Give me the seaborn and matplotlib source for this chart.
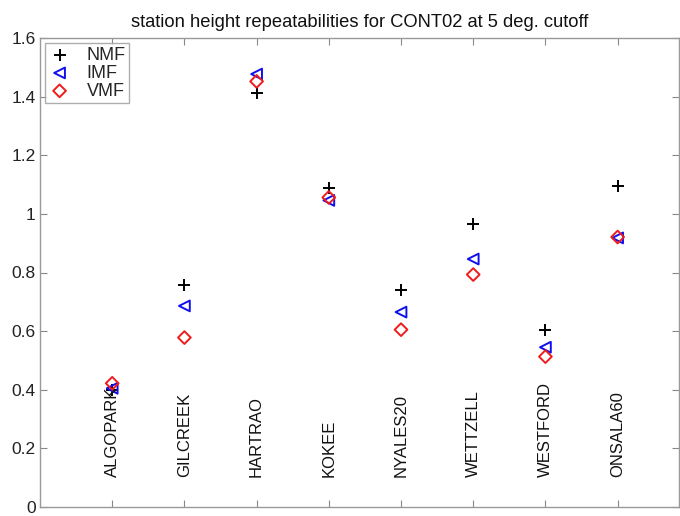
import matplotlib
matplotlib.use("Agg")
import matplotlib.pyplot as plt
import seaborn as sns
import pandas as pd

stations = ["ALGOPARK", "GILCREEK", "HARTRAO", "KOKEE",
            "NYALES20", "WETTZELL", "WESTFORD", "ONSALA60"]
nmf = [0.400, 0.756, 1.413, 1.088, 0.742, 0.964, 0.603, 1.094]
imf = [0.405, 0.686, 1.477, 1.046, 0.665, 0.846, 0.545, 0.918]
vmf = [0.422, 0.578, 1.452, 1.056, 0.605, 0.793, 0.513, 0.921]
series_names = ["NMF", "IMF", "VMF"]
title_text = "station height repeatabilities for CONT02 at 5 deg. cutoff"
yticks = [0, 0.2, 0.4, 0.6, 0.8, 1.0, 1.2, 1.4, 1.6]
ytick_labels = ["0", "0.2", "0.4", "0.6", "0.8", "1", "1.2", "1.4", "1.6"]

sns.set_style("white")
plt.rcParams["font.family"] = ["Liberation Sans", "DejaVu Sans"]

pos = list(range(1, len(stations) + 1))
df = pd.DataFrame({"pos": pos, "station": stations,
                   "NMF": nmf, "IMF": imf, "VMF": vmf})

fig = plt.figure(figsize=(6.8, 5.16), dpi=100)
ax = fig.add_axes([40 / 680, 9 / 516, 639 / 680, 469 / 516])

styles = {
    "NMF": dict(marker="+", color="black", edgecolor="black", s=70, linewidth=1.4),
    "IMF": dict(marker="<", color="#1010ee", edgecolor="#1010ee",
                facecolors="none", s=60, linewidth=1.4),
    "VMF": dict(marker="D", color="#ee1c1c", edgecolor="#ee1c1c",
                facecolors="none", s=42, linewidth=1.4),
}
handles = []
for name in series_names:
    sns.scatterplot(data=df, x="pos", y=name, ax=ax, legend=False, zorder=3,
                    **styles[name])
    handles.append(ax.collections[-1])

for p, s in zip(pos, stations):
    ax.text(p, 0.103, s, rotation=90, ha="center", va="bottom",
            fontsize=12, color="#111111")

ax.set_xlim(0, 8.85)
ax.set_ylim(0, 1.6)
ax.set_xticks(pos)
ax.set_xticklabels([])
ax.set_yticks(yticks)
ax.set_yticklabels(ytick_labels, fontsize=12.5, color="#222222")
ax.set_xlabel("")
ax.set_ylabel("")
ax.tick_params(axis="both", direction="in", length=5, width=0.8,
               color="#888888", top=True, right=True, bottom=True, left=True,
               pad=3)
for sp in ax.spines.values():
    sp.set_visible(True)
    sp.set_color("#999999")
    sp.set_linewidth(1.0)

ax.set_title(title_text, fontsize=13.2, pad=8, color="#111111")

leg = ax.legend(handles, series_names, loc="upper left",
                bbox_to_anchor=(0.008, 0.989), fontsize=13,
                frameon=True, fancybox=False, handlelength=1.2,
                handletextpad=0.9, borderpad=0.2, labelspacing=0.05,
                borderaxespad=0.0)
leg.get_frame().set_edgecolor("#999999")
leg.get_frame().set_linewidth(1.0)

fig.savefig("out.png", dpi=100)
